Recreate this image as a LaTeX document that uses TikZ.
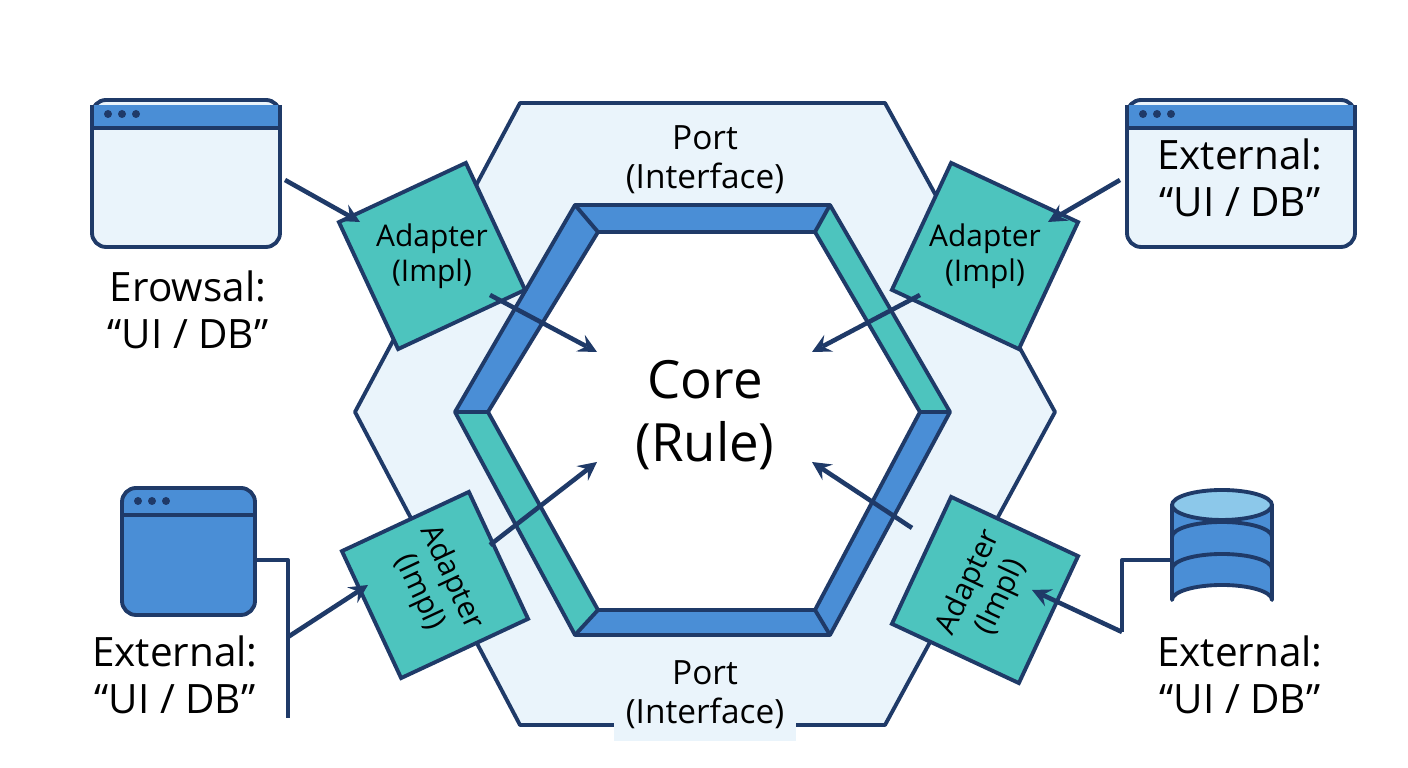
\documentclass[tikz,border=0pt]{standalone}
\usepackage{fontspec}
\setmainfont{Open Sans}
\usetikzlibrary{shapes.geometric}
\definecolor{navy}{HTML}{1F3A68}
\definecolor{paleblue}{HTML}{EAF4FB}
\definecolor{midblue}{HTML}{4A8ED6}
\definecolor{teal}{HTML}{4DC4BE}
\definecolor{lightblue}{HTML}{8CC8EA}
\tikzset{
  edge/.style={navy, line width=1.1pt, line join=round},
  link/.style={navy, line width=1.3pt, -stealth},
  adapter/.style={draw=navy, fill=teal, line width=1.1pt, minimum size=1.4cm},
  adaptext/.style={align=center, font=\fontsize{8.5}{10}\selectfont},
  extlabel/.style={align=center, font=\fontsize{11.5}{13.5}\selectfont},
  portlabel/.style={align=center, font=\fontsize{9.5}{11}\selectfont}
}
\begin{document}
\begin{tikzpicture}[x=0.01cm, y=-0.01cm]
    \useasboundingbox (0,0) rectangle (1408,768);
    % outer hexagon
    \draw [edge, fill=paleblue] (520,103) -- (885,103) -- (1055,412) -- (885,725) -- (520,725) -- (355,412) -- cycle;
    % inner frame
    \fill [midblue] (575,205) -- (830,205) -- (950,412) -- (830,635) -- (575,635) -- (455,412) -- cycle;
    \fill [teal] (830,205) -- (950,412) -- (920,412) -- (815,232) -- cycle;
    \fill [teal] (455,412) -- (575,635) -- (598,610) -- (488,412) -- cycle;
    \draw [edge, fill=white] (598,232) -- (815,232) -- (920,412) -- (815,610) -- (598,610) -- (488,412) -- cycle;
    \draw [edge] (575,205) -- (830,205) -- (950,412) -- (830,635) -- (575,635) -- (455,412) -- cycle;
    \draw [edge] (575,205) -- (598,232) (830,205) -- (815,232) (950,412) -- (920,412)
                 (830,635) -- (815,610) (575,635) -- (598,610) (455,412) -- (488,412);
    \node [portlabel] (porttop) at (705,160) {Port\\(Interface)};
    \node [portlabel, fill=paleblue] (portbot) at (705,695) {Port\\(Interface)};
    \node [font=\fontsize{15}{18}\selectfont, align=center] (core) at (705,415) {Core\\(Rule)};
    % adapters
    \node [adapter, rotate=25] (ad1) at (432,256) {};
    \node [adaptext] at (ad1) {Adapter\\(Impl)};
    \node [adapter, rotate=-25] (ad2) at (985,256) {};
    \node [adaptext] at (ad2) {Adapter\\(Impl)};
    \node [adapter, rotate=-65] (ad3) at (435,585) {};
    \node [adaptext, rotate=-65] at (ad3) {Adapter\\(Impl)};
    \node [adapter, rotate=65] (ad4) at (985,590) {};
    \node [adaptext, rotate=65] at (ad4) {Adapter\\(Impl)};
    % externals
    \draw [edge, fill=paleblue, rounded corners=4pt] (92,100) rectangle (280,247);
    \draw [edge, fill=midblue] (92,105) -- (92,128) -- (280,128) -- (280,105);
    \foreach \x in {108,122,136} \fill [navy] (\x,114) circle (4);
    \draw [edge, fill=paleblue, rounded corners=4pt] (1127,100) rectangle (1355,247);
    \draw [edge, fill=midblue] (1127,105) -- (1127,128) -- (1355,128) -- (1355,105);
    \foreach \x in {1143,1157,1171} \fill [navy] (\x,114) circle (4);
    \draw [edge, fill=midblue, rounded corners=4pt] (122,488) rectangle (255,615);
    \draw [edge] (122,515) -- (255,515);
    \foreach \x in {138,152,166} \fill [navy] (\x,501) circle (4);
    % database
    \draw [edge, fill=midblue] (1172,505) -- (1172,600) arc [start angle=180, end angle=360, x radius=50, y radius=15] -- (1272,505);
    \draw [edge] (1172,537) arc [start angle=180, end angle=360, x radius=50, y radius=15];
    \draw [edge] (1172,569) arc [start angle=180, end angle=360, x radius=50, y radius=15];
    \draw [edge, fill=lightblue] (1222,505) ellipse [x radius=50, y radius=15];
    \node [extlabel] (ext1) at (188,310) {Erowsal:\\“UI / DB”};
    \node [extlabel] (ext2) at (1240,178) {External:\\“UI / DB”};
    \node [extlabel] (ext3) at (175,675) {External:\\“UI / DB”};
    \node [extlabel] (ext4) at (1240,675) {External:\\“UI / DB”};
    % connectors
    \coordinate (w1) at (285,180);  \coordinate (a1) at (360,222);
    \coordinate (w2) at (1120,180); \coordinate (a2) at (1048,222);
    \coordinate (s1) at (490,295);  \coordinate (c1) at (597,352);
    \coordinate (s2) at (920,295);  \coordinate (c2) at (812,352);
    \coordinate (s3) at (490,545);  \coordinate (c3) at (597,462);
    \coordinate (s4) at (912,528);  \coordinate (c4) at (812,462);
    \coordinate (w3) at (255,560);  \coordinate (k3) at (288,560); \coordinate (e3) at (288,718);
    \coordinate (b3) at (288,637);  \coordinate (a3) at (368,585);
    \coordinate (w4) at (1172,560); \coordinate (k4) at (1122,560); \coordinate (e4) at (1122,632);
    \coordinate (a4) at (1032,590);
    \draw [link] (w1) -- (a1);
    \draw [link] (w2) -- (a2);
    \draw [link] (s1) -- (c1);
    \draw [link] (s2) -- (c2);
    \draw [link] (s3) -- (c3);
    \draw [link] (s4) -- (c4);
    \draw [edge] (w3) -- (k3) -- (e3);
    \draw [link] (b3) -- (a3);
    \draw [edge] (w4) -- (k4) -- (e4);
    \draw [link] (e4) -- (a4);
\end{tikzpicture}
\end{document}
